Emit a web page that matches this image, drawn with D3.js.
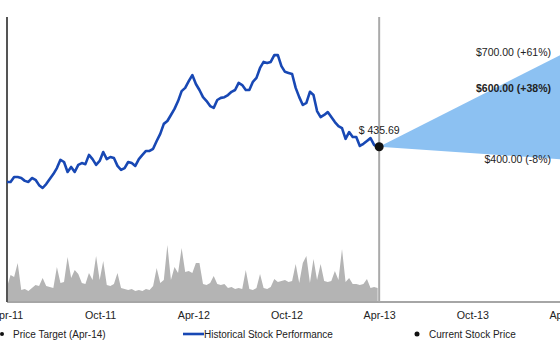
<!DOCTYPE html>
<html>
<head>
<meta charset="utf-8">
<script src="https://cdn.jsdelivr.net/npm/d3@7"></script>
<style>
    body { margin: 0; background: #fff; }
    svg { display: block; font-family: "Liberation Sans", Arial, sans-serif; }
    .tick text { fill: #222; font-size: 10.7px; }
    .legend { font-size: 10px; fill: #222; }
    .target-label { font-size: 10.5px; fill: #222; }
</style>
</head>
<body>
<div id="chart"></div>
<script>
// weekly closes from the first week of Apr-11 up to the last week before Apr-13
var startDate = "2011-04-01";
var weeklyClose = [
    337, 337, 351, 351, 348, 340, 337, 348, 343, 328,
    320, 331, 345, 359, 376, 399, 393, 365, 379, 365,
    385, 390, 387, 413, 401, 385, 396, 421, 401, 407,
    404, 382, 371, 376, 393, 390, 382, 401, 413, 424,
    424, 430, 452, 472, 500, 508, 525, 542, 564, 592,
    601, 620, 637, 612, 595, 575, 564, 550, 545, 567,
    573, 575, 581, 590, 595, 615, 609, 595, 595, 618,
    629, 657, 674, 671, 674, 693, 693, 662, 646, 643,
    640, 601, 575, 553, 559, 590, 581, 536, 519, 525,
    533, 519, 505, 494, 488, 458, 477, 463, 463, 438,
    444, 452, 460, 441, 435
];
// volume in millions of shares, same weeks
var weeklyVolume = [
    15, 27, 25, 39, 12, 13, 11, 14, 17, 16,
    24, 16, 15, 14, 35, 19, 20, 45, 24, 32,
    28, 19, 18, 29, 22, 46, 22, 41, 17, 16,
    18, 29, 14, 13, 12, 13, 11, 12, 11, 13,
    12, 16, 34, 19, 22, 57, 22, 35, 29, 54,
    30, 31, 29, 39, 39, 18, 17, 19, 26, 18,
    17, 18, 14, 15, 13, 14, 13, 32, 13, 12,
    14, 28, 14, 13, 15, 23, 20, 21, 22, 20,
    21, 38, 19, 39, 46, 19, 43, 22, 38, 21,
    20, 21, 31, 22, 53, 20, 24, 18, 18, 17,
    18, 23, 14, 15, 14
];

var currentDate = "2013-04-01",
    currentPrice = 435.69;

var targetDate = "2014-04-01";
var targetPrices = [700, 600, 400];
var targetLabels = ["$700.00 (+61%)", "$600.00 (+38%)", "$400.00 (-8%)"];

var tickLabels = ["Apr-11", "Oct-11", "Apr-12", "Oct-12", "Apr-13", "Oct-13", "Apr-14"];
var legendLabels = ["Price Target (Apr-14)", "Historical Stock Performance", "Current Stock Price"];

var margin = {top: 17, right: 0, bottom: 48, left: 7},
    width = 558,
    height = 350 - margin.top - margin.bottom;

var parseDay = d3.timeParse("%Y-%m-%d"),
    parseTick = d3.timeParse("%b-%y");

var tickDates = tickLabels.map(function (t) { return parseTick(t); });

var start = parseDay(startDate);
var prices = weeklyClose.map(function (v, i) {
    return {date: d3.timeDay.offset(start, 7 * i), close: v, volume: weeklyVolume[i]};
});
var current = {date: parseDay(currentDate), close: currentPrice};
var target = parseDay(targetDate);

var x = d3.scaleTime()
    .domain([tickDates[0], tickDates[tickDates.length - 1]])
    .range([0, width]);
var y = d3.scaleLinear().domain([0, 800]).range([height, 0]);
var yVol = d3.scaleLinear().domain([0, 60]).range([height, height - 60]);

var svg = d3.select("#chart").append("svg")
    .attr("width", 560)
    .attr("height", 350)
    .append("g")
    .attr("transform", "translate(" + margin.left + "," + margin.top + ")");

// volume
var volArea = d3.area()
    .x(function (d) { return x(d.date); })
    .y0(height)
    .y1(function (d) { return yVol(d.volume); });

svg.append("path")
    .datum(prices)
    .attr("fill", "#b4b4b4")
    .attr("d", volArea);

// price target cone
var cone = [[x(current.date), y(current.close)],
    [x(target), y(d3.max(targetPrices))],
    [x(target), y(d3.min(targetPrices))]];

svg.append("path")
    .attr("d", "M" + cone.join("L") + "Z")
    .attr("fill", "#8cc1f2");

// axes
svg.append("g")
    .attr("transform", "translate(0," + height + ")")
    .call(d3.axisBottom(x)
        .tickValues(tickDates)
        .tickFormat(function (d, i) { return tickLabels[i]; })
        .tickSize(0)
        .tickPadding(9))
    .call(function (g) { g.select(".domain").remove(); });

svg.append("line")
    .attr("x1", 0).attr("x2", 560)
    .attr("y1", height).attr("y2", height)
    .attr("stroke", "#a6a6a6")
    .attr("stroke-width", 2);

svg.append("line")
    .attr("x1", 0).attr("x2", 0)
    .attr("y1", 0).attr("y2", height)
    .attr("stroke", "#555")
    .attr("stroke-width", 2);

svg.append("line")
    .attr("x1", x(current.date)).attr("x2", x(current.date))
    .attr("y1", 0).attr("y2", height)
    .attr("stroke", "#aaa")
    .attr("stroke-width", 2);

// historical line
var priceLine = d3.line()
    .x(function (d) { return x(d.date); })
    .y(function (d) { return y(d.close); });

svg.append("path")
    .datum(prices.concat([current]))
    .attr("fill", "none")
    .attr("stroke", "#1848b4")
    .attr("stroke-width", 2.6)
    .attr("stroke-linejoin", "round")
    .attr("d", priceLine);

svg.append("circle")
    .attr("cx", x(current.date))
    .attr("cy", y(current.close))
    .attr("r", 4.5)
    .attr("fill", "#111");

svg.append("text")
    .attr("class", "target-label")
    .attr("x", x(current.date))
    .attr("y", y(current.close) - 16)
    .attr("dy", "0.35em")
    .attr("text-anchor", "middle")
    .text("$ " + currentPrice.toFixed(2));

svg.selectAll(".tgt")
    .data(targetPrices)
    .enter().append("text")
    .attr("class", "target-label")
    .attr("x", x(target) - 14)
    .attr("y", function (d) { return y(d); })
    .attr("dy", "0.35em")
    .attr("text-anchor", "end")
    .style("font-weight", function (d, i) { return i === 1 ? "bold" : "normal"; })
    .text(function (d, i) { return targetLabels[i]; });

// legend
var ly = 334 - margin.top;

svg.append("circle")
    .attr("cx", 2 - margin.left).attr("cy", ly).attr("r", 2)
    .attr("fill", "#111");
svg.append("text")
    .attr("class", "legend")
    .attr("x", 13 - margin.left).attr("y", ly).attr("dy", "0.35em")
    .text(legendLabels[0]);

svg.append("line")
    .attr("x1", 183 - margin.left).attr("x2", 204 - margin.left)
    .attr("y1", ly).attr("y2", ly)
    .attr("stroke", "#1848b4")
    .attr("stroke-width", 2.6);
svg.append("text")
    .attr("class", "legend")
    .attr("x", 204 - margin.left).attr("y", ly).attr("dy", "0.35em")
    .text(legendLabels[1]);

svg.append("circle")
    .attr("cx", 417 - margin.left).attr("cy", ly).attr("r", 2.5)
    .attr("fill", "#111");
svg.append("text")
    .attr("class", "legend")
    .attr("x", 429 - margin.left).attr("y", ly).attr("dy", "0.35em")
    .text(legendLabels[2]);
</script>
</body>
</html>
